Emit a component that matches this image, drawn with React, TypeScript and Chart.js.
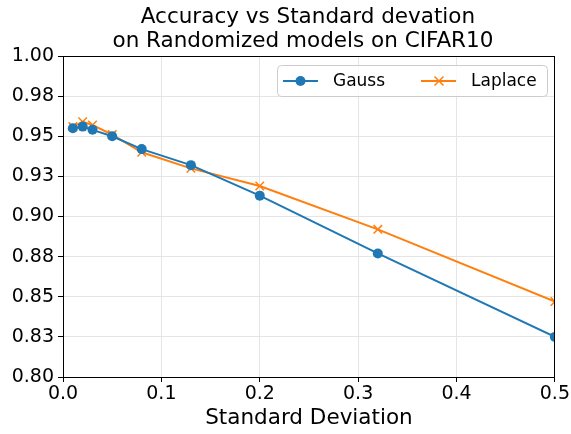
import React, { useEffect, useRef } from "react";
import { Chart, registerables } from "chart.js";

Chart.register(...registerables);

const titleLines = ["Accuracy vs Standard devation", "on Randomized models on CIFAR10"];
const xAxisTitle = "Standard Deviation";
const stdValues = [0.01, 0.02, 0.03, 0.05, 0.08, 0.13, 0.2, 0.32, 0.5];
const gaussAcc = [0.955, 0.956, 0.954, 0.95, 0.942, 0.932, 0.913, 0.877, 0.825];
const laplaceAcc = [0.956, 0.959, 0.957, 0.951, 0.94, 0.93, 0.919, 0.892, 0.847];
const yTickValues = [0.8, 0.825, 0.85, 0.875, 0.9, 0.925, 0.95, 0.975, 1.0];
const yTickLabels = ["0.80", "0.83", "0.85", "0.88", "0.90", "0.93", "0.95", "0.98", "1.00"];
const seriesNames = ["Gauss", "Laplace"];

const FONT = "'DejaVu Sans', sans-serif";
const BLUE = "#1f77b4";
const ORANGE = "#ff7f0e";

const overlayPlugin = {
  id: "overlay",
  afterDraw(chart: any) {
    const { ctx, chartArea } = chart;
    const { left, right, top, bottom } = chartArea;
    ctx.save();
    // frame
    ctx.strokeStyle = "#000";
    ctx.lineWidth = 1;
    ctx.strokeRect(Math.round(left) + 0.5, Math.round(top) + 0.5, Math.round(right - left) - 1, Math.round(bottom - top));
    // title
    ctx.fillStyle = "#000";
    ctx.font = `21.5px ${FONT}`;
    ctx.textAlign = "center";
    ctx.textBaseline = "middle";
    const cx = (left + right) / 2;
    ctx.fillText(titleLines[0], cx - 1, 17);
    ctx.fillText(titleLines[1], cx - 6, 41);
    // legend
    const lx = 277, ly = 65, lw = 270, lh = 31;
    ctx.beginPath();
    (ctx as any).roundRect(lx + 0.5, ly + 0.5, lw, lh, 4);
    ctx.fillStyle = "rgba(255,255,255,0.8)";
    ctx.fill();
    ctx.strokeStyle = "#cccccc";
    ctx.stroke();
    const my = ly + lh / 2 + 0.5;
    ctx.font = `17px ${FONT}`;
    ctx.textAlign = "left";
    ctx.fillStyle = "#000";
    // Gauss
    ctx.strokeStyle = BLUE;
    ctx.lineWidth = 2;
    ctx.beginPath();
    ctx.moveTo(283, my);
    ctx.lineTo(318, my);
    ctx.stroke();
    ctx.fillStyle = BLUE;
    ctx.beginPath();
    ctx.arc(300.5, my, 5, 0, Math.PI * 2);
    ctx.fill();
    ctx.fillStyle = "#000";
    ctx.fillText(seriesNames[0], 333, my + 1);
    // Laplace
    ctx.strokeStyle = ORANGE;
    ctx.beginPath();
    ctx.moveTo(421, my);
    ctx.lineTo(456, my);
    ctx.stroke();
    ctx.lineWidth = 1.5;
    ctx.beginPath();
    ctx.moveTo(434.5, my - 4.5);
    ctx.lineTo(443.5, my + 4.5);
    ctx.moveTo(443.5, my - 4.5);
    ctx.lineTo(434.5, my + 4.5);
    ctx.stroke();
    ctx.fillStyle = "#000";
    ctx.fillText(seriesNames[1], 471, my + 1);
    ctx.restore();
  },
};

export default function App() {
  const ref = useRef<HTMLCanvasElement | null>(null);
  useEffect(() => {
    document.body.style.margin = "0";
    const canvas = ref.current!;
    const chart = new Chart(canvas, {
      type: "line",
      data: {
        datasets: [
          {
            label: seriesNames[0],
            data: stdValues.map((x, i) => ({ x, y: gaussAcc[i] })),
            borderColor: BLUE,
            backgroundColor: BLUE,
            borderWidth: 2,
            pointStyle: "circle",
            pointRadius: 5,
            pointBorderWidth: 0,
            tension: 0,
          },
          {
            label: seriesNames[1],
            data: stdValues.map((x, i) => ({ x, y: laplaceAcc[i] })),
            borderColor: ORANGE,
            backgroundColor: ORANGE,
            borderWidth: 2,
            pointStyle: "crossRot",
            pointRadius: 6,
            pointBorderWidth: 1.5,
            tension: 0,
          },
        ],
      },
      options: {
        animation: false,
        responsive: false,
        maintainAspectRatio: false,
        layout: { padding: { top: 56, right: 15, left: 0, bottom: 0 } },
        plugins: { legend: { display: false }, tooltip: { enabled: false }, title: { display: false } },
        scales: {
          x: {
            type: "linear",
            min: 0,
            max: 0.5,
            afterFit: (s: any) => { s.height = 57; },
            afterBuildTicks: (s: any) => { s.ticks = [0, 0.1, 0.2, 0.3, 0.4, 0.5].map((v) => ({ value: v })); },
            ticks: {
              color: "#000",
              font: { family: FONT, size: 19 },
              padding: 1,
              maxRotation: 0,
              callback: (v: any) => Number(v).toFixed(1),
            },
            grid: { color: "#e5e5e5", lineWidth: 1, tickColor: "#000", tickLength: 5, drawTicks: true },
            border: { display: false },
            title: { display: true, text: xAxisTitle, color: "#000", font: { family: FONT, size: 21.5 }, padding: { top: 0, bottom: 3 } },
          },
          y: {
            type: "linear",
            min: 0.8,
            max: 1.0,
            afterFit: (s: any) => { s.width = 63; },
            afterBuildTicks: (s: any) => { s.ticks = yTickValues.map((v) => ({ value: v })); },
            ticks: {
              color: "#000",
              font: { family: FONT, size: 19 },
              padding: 4,
              callback: (v: any) => {
                const i = yTickValues.findIndex((t) => Math.abs(t - Number(v)) < 1e-6);
                return i >= 0 ? yTickLabels[i] : "";
              },
            },
            grid: { color: "#e5e5e5", lineWidth: 1, tickColor: "#000", tickLength: 5, drawTicks: true },
            border: { display: false },
          },
        },
      },
      plugins: [overlayPlugin],
    });
    return () => chart.destroy();
  }, []);
  return (
    <div style={{ position: "absolute", left: 0, top: 0, width: 571, height: 434, background: "#fff" }}>
      <canvas ref={ref} width={571} height={434} />
    </div>
  );
}
